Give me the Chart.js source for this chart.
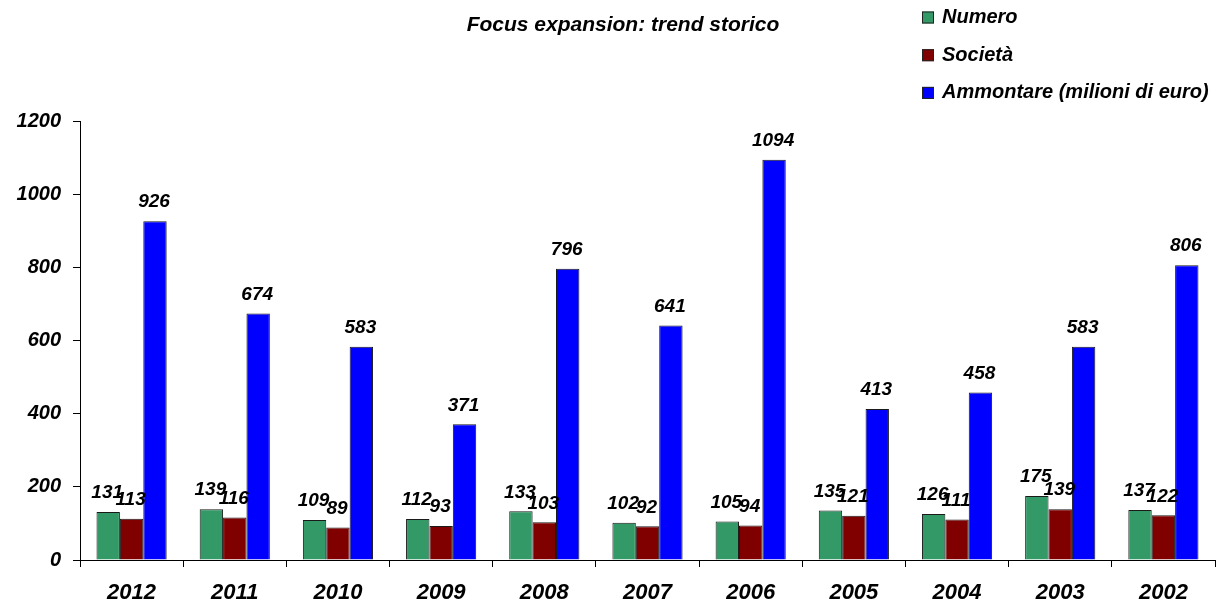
<!DOCTYPE html>
<html>
<head>
<meta charset="utf-8">
<script src="https://cdn.jsdelivr.net/npm/chart.js@4.4.1/dist/chart.umd.min.js"></script>
<style>
  html, body { margin: 0; padding: 0; background: #ffffff; }
  #wrap { width: 1231px; height: 603px; }
</style>
</head>
<body>
<div id="wrap"><canvas id="chart" width="1231" height="603"></canvas></div>
<script>
// Years shown on the category axis (most recent first)
const years = ['2012', '2011', '2010', '2009', '2008', '2007', '2006', '2005', '2004', '2003', '2002'];

// Series values
const numero = [131, 139, 109, 112, 133, 102, 105, 135, 126, 175, 137];
const societa = [113, 116, 89, 93, 103, 92, 94, 121, 111, 139, 122];
const ammontare = [926, 674, 583, 371, 796, 641, 1094, 413, 458, 583, 806];

// Series names
const seriesNames = ['Numero', 'Società', 'Ammontare (milioni di euro)'];

// Y axis ticks
const yTicks = [0, 200, 400, 600, 800, 1000, 1200];

const chartTitle = 'Focus expansion: trend storico';

const FONT = "'Liberation Sans', Arial, Helvetica, sans-serif";
const colors = ['#339966', '#800000', '#0000ff'];

// Value labels above each bar
const valueLabels = {
  id: 'valueLabels',
  afterDatasetsDraw(chart) {
    const ctx = chart.ctx;
    ctx.save();
    ctx.font = 'italic bold 19px ' + FONT;
    ctx.fillStyle = '#000';
    ctx.textAlign = 'center';
    ctx.textBaseline = 'middle';
    chart.data.datasets.forEach((ds, di) => {
      const meta = chart.getDatasetMeta(di);
      meta.data.forEach((bar, i) => {
        ctx.fillText(String(ds.data[i]), bar.x - 1, bar.y - 19);
      });
    });
    ctx.restore();
  }
};

// Title and legend block in the top area
const headerBlock = {
  id: 'headerBlock',
  afterDraw(chart) {
    const ctx = chart.ctx;
    ctx.save();
    ctx.fillStyle = '#000';
    ctx.textBaseline = 'middle';
    ctx.textAlign = 'center';
    ctx.font = 'italic bold 21px ' + FONT;
    ctx.fillText(chartTitle, 623, 25);

    ctx.textAlign = 'left';
    ctx.font = 'italic bold 20px ' + FONT;
    chart.data.datasets.forEach((ds, i) => {
      const cy = 17.5 + i * 37.7;
      ctx.fillStyle = ds.backgroundColor;
      ctx.fillRect(922, cy - 6, 12, 12);
      ctx.strokeStyle = '#222';
      ctx.lineWidth = 1;
      ctx.strokeRect(922.5, cy - 5.5, 11, 11);
      ctx.fillStyle = '#000';
      ctx.fillText(ds.label, 942, cy);
    });
    ctx.restore();
  }
};

const datasets = [numero, societa, ammontare].map((vals, i) => ({
  label: seriesNames[i],
  data: vals,
  backgroundColor: colors[i],
  borderColor: '#1a1a1a',
  borderWidth: 1,
  borderSkipped: 'bottom',
  categoryPercentage: 0.68,
  barPercentage: 1.0
}));

new Chart(document.getElementById('chart'), {
  type: 'bar',
  data: { labels: years, datasets },
  options: {
    responsive: false,
    animation: false,
    layout: { padding: { top: 121, right: 16, left: 0, bottom: 0 } },
    plugins: {
      legend: { display: false },
      title: { display: false },
      tooltip: { enabled: false }
    },
    scales: {
      x: {
        offset: true,
        grid: {
          offset: true,
          drawOnChartArea: false,
          drawTicks: true,
          tickLength: 7,
          color: '#000'
        },
        border: { display: true, color: '#000', width: 1 },
        ticks: {
          color: '#000',
          padding: 13,
          font: { family: FONT, size: 22, style: 'italic', weight: 'bold' },
          maxRotation: 0
        },
        afterFit(scale) { scale.height = 43; }
      },
      y: {
        min: 0,
        max: 1200,
        afterBuildTicks(scale) { scale.ticks = yTicks.map(v => ({ value: v })); },
        grid: {
          drawOnChartArea: false,
          drawTicks: true,
          tickLength: 7,
          color: '#000'
        },
        border: { display: true, color: '#000', width: 1 },
        ticks: {
          color: '#000',
          padding: 12,
          callback: (v) => String(v),
          font: { family: FONT, size: 20, style: 'italic', weight: 'bold' }
        },
        afterFit(scale) { scale.width = 80; }
      }
    }
  },
  plugins: [valueLabels, headerBlock]
});
</script>
</body>
</html>
